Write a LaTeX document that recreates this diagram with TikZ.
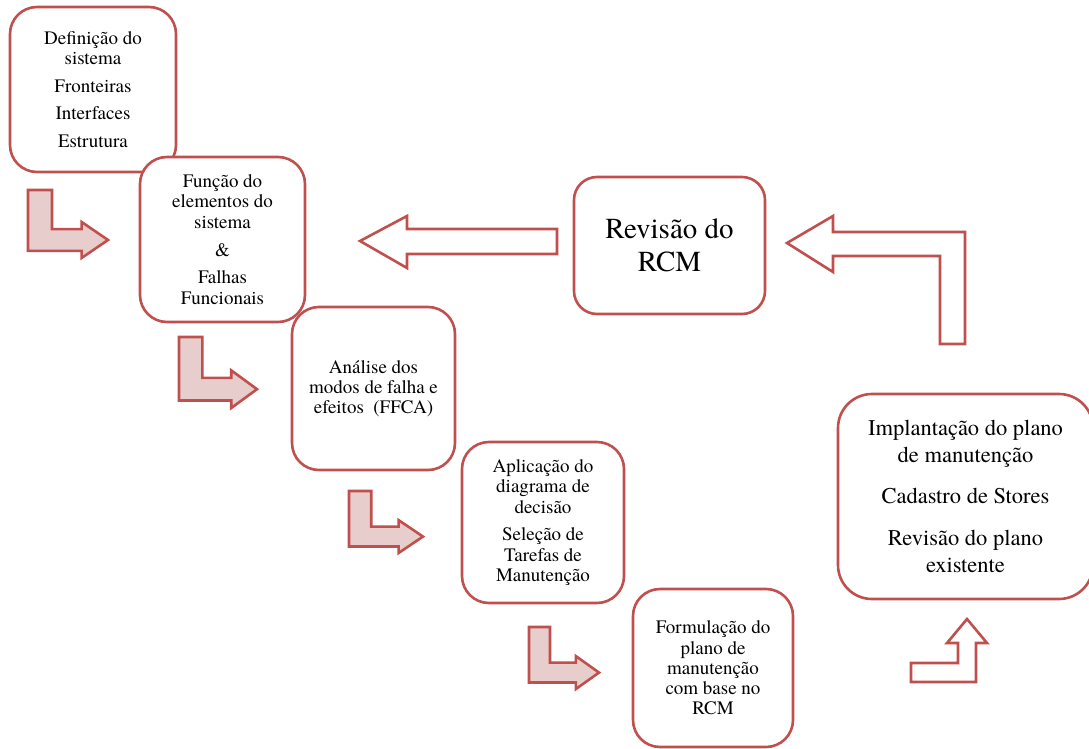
\documentclass[tikz,border=0pt]{standalone}
\usepackage{fontspec}
\IfFontExistsTF{texgyretermes-regular.otf}
  {\setmainfont{texgyretermes-regular.otf}}
  {\setmainfont{Latin Modern Roman}}
\definecolor{rcmred}{HTML}{C0504D}
\definecolor{rcmpink}{HTML}{E8CDCD}
\tikzstyle{stepbox} = [rectangle, draw=rcmred, fill=white, line width=2.6pt, align=center, inner sep=0pt, text=black]
\tikzstyle{smalltext} = [font=\rmfamily\fontsize{19}{20.3}\selectfont]
\tikzstyle{bentarrow} = [draw=rcmred, fill=rcmpink, line width=2.6pt]
\tikzstyle{openarrow} = [draw=rcmred, fill=white, line width=2.6pt]

\begin{document}
\begin{tikzpicture}[x=1pt, y=-1pt]
        \useasboundingbox (0,0) rectangle (1089,749);
        % etapas do RCM
        \node[stepbox, smalltext, minimum width=166pt, minimum height=165pt, rounded corners=27pt] (def) at (93,89.5) {Definição do\\sistema\\[7.5pt]Fronteiras\\[7.5pt]Interfaces\\[7.5pt]Estrutura};
        \node[stepbox, smalltext, minimum width=165pt, minimum height=165pt, rounded corners=27pt] (func) at (222.5,239.5) {Função do\\elementos do\\sistema\\[7.5pt]\&\\[7.5pt]Falhas\\Funcionais};
        \node[stepbox, smalltext, minimum width=163pt, minimum height=163pt, rounded corners=27pt] (ffca) at (373.5,388.5) {Análise dos\\modos de falha e\\efeitos\ \ (FFCA)};
        \node[stepbox, smalltext, minimum width=162pt, minimum height=161pt, rounded corners=27pt] (dec) at (543,522.5) {Aplicação do\\diagrama de\\decisão\\[7.5pt]Seleção de\\Tarefas de\\Manutenção};
        \node[stepbox, smalltext, minimum width=160pt, minimum height=158pt, rounded corners=27pt] (plano) at (713,668) {Formulação do\\plano de\\manutenção\\com base no\\RCM};
        \node[stepbox, font=\rmfamily\fontsize{22.5}{27}\selectfont, minimum width=255pt, minimum height=205pt, rounded corners=34pt] (impl) at (965.5,496.5) {Implantação do plano\\de manutenção\\[14pt]Cadastro de Stores\\[15pt]Revisão do plano\\existente};
        \node[stepbox, font=\rmfamily\fontsize{29}{33}\selectfont, minimum width=191pt, minimum height=137pt, rounded corners=23pt] (rev) at (669.5,245.5) {Revisão do\\RCM};

        % setas em L
        \foreach \x/\y/\w/\h in {28/190/80/68, 179/337/78/71, 349/491/74/62, 529/627/70/62}
            \draw[bentarrow] (\x,\y) -- ({\x+0.3*\w},\y) -- ({\x+0.3*\w},{\y+0.575*\h}) -- ({\x+0.67*\w},{\y+0.575*\h}) -- ({\x+0.67*\w},{\y+0.47*\h}) -- ({\x+\w},{\y+0.735*\h}) -- ({\x+0.67*\w},{\y+\h}) -- ({\x+0.67*\w},{\y+0.895*\h}) -- (\x,{\y+0.895*\h}) -- cycle;

        % setas de retorno
        \draw[openarrow] (911,663) -- (958,663) -- (958,643) -- (947,643) -- (967,619) -- (987,643) -- (976,643) -- (976,682) -- (911,682) -- cycle;
        \draw[openarrow] (787,243) -- (833,216) -- (833,232) -- (965,232) -- (965,344) -- (940,344) -- (940,256) -- (833,256) -- (833,272) -- cycle;
        \draw[openarrow] (360,241) -- (407,216) -- (407,229) -- (557,229) -- (557,254) -- (407,254) -- (407,268) -- cycle;
    \end{tikzpicture}
\end{document}
